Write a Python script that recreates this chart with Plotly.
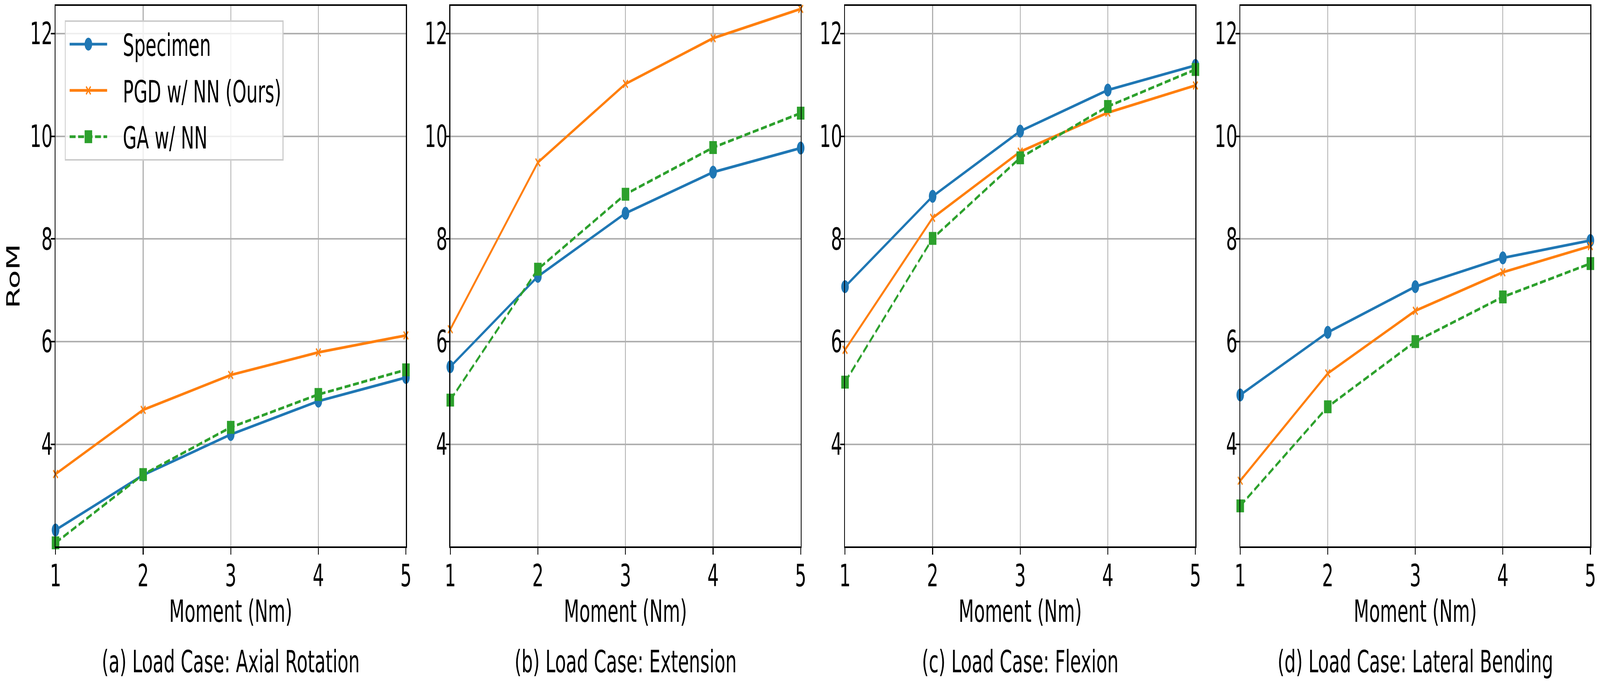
import plotly.graph_objects as go

# ---------------- data ----------------
moments = [1, 2, 3, 4, 5]
series_names = ["Specimen", "PGD w/ NN (Ours)", "GA w/ NN"]
panel_titles = [
    "(a) Load Case: Axial Rotation",
    "(b) Load Case: Extension",
    "(c) Load Case: Flexion",
    "(d) Load Case: Lateral Bending",
]
y_ticks = [4, 6, 8, 10, 12]
x_ticks = [1, 2, 3, 4, 5]

specimen_axial = [2.33, 3.40, 4.19, 4.84, 5.30]
pgd_axial = [3.42, 4.67, 5.35, 5.79, 6.12]
ga_axial = [2.08, 3.41, 4.33, 4.97, 5.45]

specimen_extension = [5.51, 7.27, 8.50, 9.30, 9.77]
pgd_extension = [6.24, 9.49, 11.02, 11.91, 12.48]
ga_extension = [4.86, 7.41, 8.87, 9.78, 10.45]

specimen_flexion = [7.07, 8.83, 10.10, 10.90, 11.38]
pgd_flexion = [5.84, 8.41, 9.70, 10.46, 10.99]
ga_flexion = [5.21, 8.01, 9.58, 10.58, 11.30]

specimen_lateral = [4.96, 6.18, 7.07, 7.63, 7.97]
pgd_lateral = [3.29, 5.38, 6.60, 7.35, 7.86]
ga_lateral = [2.80, 4.73, 6.00, 6.87, 7.52]

panels = [
    (specimen_axial, pgd_axial, ga_axial),
    (specimen_extension, pgd_extension, ga_extension),
    (specimen_flexion, pgd_flexion, ga_flexion),
    (specimen_lateral, pgd_lateral, ga_lateral),
]

# ---------------- style ----------------
W, H = 7000, 1750
FONT = "DejaVu Sans"
FS = 78
colors = ["#1f77b4", "#ff7f0e", "#2ca02c"]
LW = 7
x_px = [(243, 1776), (1970, 3503), (3697, 5230), (5426, 6958)]
y_top, y_bot = 15, 1398
y_dom = [1 - y_bot / H, 1 - y_top / H]

marker_sizes = [33, 20, 33]
markers = [
    dict(symbol="circle", size=marker_sizes[0], color=colors[0], line=dict(width=0)),
    dict(symbol="x-thin", size=marker_sizes[1], color=colors[1], line=dict(width=4.7, color=colors[1])),
    dict(symbol="square", size=marker_sizes[2], color=colors[2], line=dict(width=0)),
]
dashes = ["solid", "solid", "26px,11px"]

fig = go.Figure()
for i, data in enumerate(panels):
    ax = "" if i == 0 else str(i + 1)
    for j, vals in enumerate(data):
        fig.add_trace(go.Scatter(
            x=moments, y=vals, mode="lines+markers",
            name=series_names[j],
            legendgroup=series_names[j],
            showlegend=(i == 0),
            line=dict(color=colors[j], width=LW, dash=dashes[j]),
            marker=markers[j],
            xaxis="x" + ax, yaxis="y" + ax,
            cliponaxis=False,
        ))

layout = dict(
    width=W, height=H,
    margin=dict(l=0, r=0, t=0, b=0),
    paper_bgcolor="white", plot_bgcolor="white",
    font=dict(family=FONT, size=FS, color="black"),
    showlegend=True,
    legend=dict(
        x=283 / W, y=1 - 52 / H, xanchor="left", yanchor="top",
        bgcolor="rgba(255,255,255,0.8)", bordercolor="#cccccc", borderwidth=3.7,
        font=dict(family=FONT, size=FS, color="black"),
        itemwidth=241, tracegroupgap=14,
    ),
    annotations=[],
)

for i in range(4):
    ax = "" if i == 0 else str(i + 1)
    x0, x1 = x_px[i]
    layout["xaxis" + ax] = dict(
        domain=[x0 / W, x1 / W], anchor="y" + ax,
        range=[1, 5], tickvals=x_ticks, ticktext=[str(t) for t in x_ticks],
        showgrid=True, gridcolor="#b0b0b0", gridwidth=3.7,
        showline=True, linecolor="black", linewidth=3.7, mirror=True,
        ticks="outside", ticklen=17, tickwidth=3.7, tickcolor="black",
        tickfont=dict(family=FONT, size=FS, color="black"),
        ticklabelstandoff=-12,
        title=dict(text="Moment (Nm)", font=dict(family=FONT, size=FS, color="black"), standoff=20),
        zeroline=False, automargin=False,
    )
    layout["yaxis" + ax] = dict(
        domain=y_dom, anchor="x" + ax,
        range=[2.01, 12.54], tickvals=y_ticks, ticktext=[str(t) for t in y_ticks],
        showgrid=True, gridcolor="#b0b0b0", gridwidth=3.7,
        showline=True, linecolor="black", linewidth=3.7, mirror=True,
        ticks="outside", ticklen=17, tickwidth=3.7, tickcolor="black",
        tickfont=dict(family=FONT, size=FS, color="black"),
        ticklabelstandoff=-24,
        zeroline=False, automargin=False,
    )
    if i == 0:
        layout["yaxis"]["title"] = dict(text="RoM", font=dict(family=FONT, size=FS, color="black"), standoff=20)
    layout["annotations"].append(dict(
        text=panel_titles[i], xref="paper", yref="paper",
        x=(x0 + x1) / 2 / W, y=1 - 1693 / H, xanchor="center", yanchor="middle",
        showarrow=False, font=dict(family=FONT, size=FS, color="black"),
    ))

fig.update_layout(**layout)

# legend swatch scale factors (plotly caps legend markers at 16 px)
legend_scales = [s / 16 for s in marker_sizes]

post = """
var gd = document.querySelector('.plotly-graph-div');
document.documentElement.style.overflow = 'hidden';
document.body.style.margin = '0';
document.body.style.overflow = 'hidden';
var sx = Math.min(1, window.innerWidth / %d), sy = Math.min(1, window.innerHeight / %d);
gd.style.transformOrigin = '0 0';
gd.style.transform = 'scale(' + sx + ',' + sy + ')';
var ks = %s;
var items = gd.querySelectorAll('.legend .traces');
items.forEach(function(it, i) {
  var ln = it.querySelectorAll('path.js-line');
  ln.forEach(function(l) { l.setAttribute('d', 'M18,0h164'); });
  it.querySelectorAll('.legendpoints path.scatterpts').forEach(function(p) {
    p.setAttribute('transform', 'translate(100,0) scale(' + ks[i] + ')');
    if (i === 1) { p.style.strokeWidth = (4.7 / ks[i]) + 'px'; }
  });
});
""" % (W, H, str(legend_scales))

fig.write_html("out.html", post_script=post, config={"displayModeBar": False})
